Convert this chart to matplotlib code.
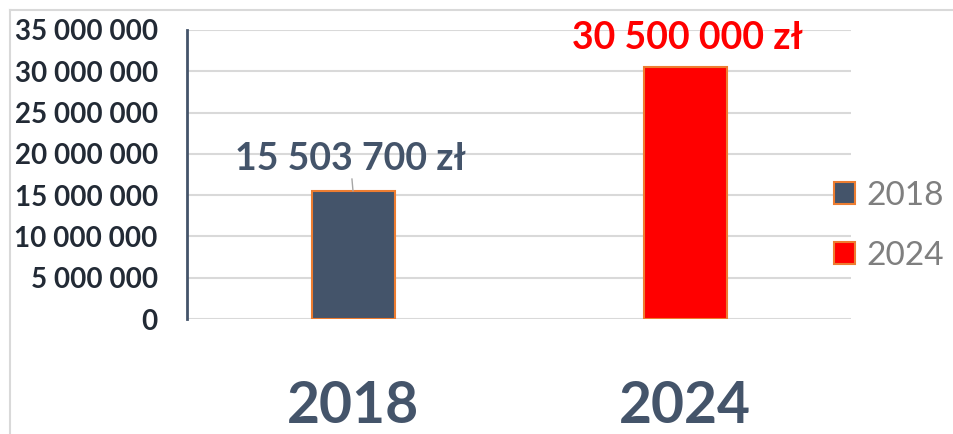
import numpy as np
import matplotlib
matplotlib.use("Agg")
import matplotlib.pyplot as plt
from matplotlib.patches import Patch
from matplotlib.lines import Line2D

years = ["2018", "2024"]
values = [15503700, 30500000]
value_labels = ["15 503 700 zł", "30 500 000 zł"]
bar_colors = ["#44546A", "#FF0000"]
label_colors = ["#44546A", "#FF0000"]
y_ticks = [0, 5000000, 10000000, 15000000, 20000000, 25000000, 30000000, 35000000]

plt.rcParams['font.family'] = ['Lato', 'DejaVu Sans']

W, H = 954, 434
fig = plt.figure(figsize=(W / 100, H / 100), dpi=100)
ax = fig.add_axes([187 / W, 1 - 319 / H, (851 - 187) / W, (319 - 30) / H])

x = np.arange(len(years))
ax.bar(x, values, width=0.25, color=bar_colors, edgecolor="#ED7D31", linewidth=1.5, zorder=3)

ax.set_xlim(-0.5, 1.5)
ax.set_ylim(0, 35000000)
ax.set_yticks(y_ticks)
ax.set_yticklabels([f"{v:,}".replace(",", " ") for v in y_ticks],
                   fontsize=20, fontweight="bold", color="#222A35")
ax.set_xticks(x)
ax.set_xticklabels(years, fontsize=41, fontweight="bold", color="#44546A")
ax.tick_params(axis="y", length=0, pad=21)
ax.tick_params(axis="x", length=0, pad=44)

ax.grid(axis="y", color="#D9D9D9", linewidth=1.5, zorder=0)
for s in ["top", "right", "bottom"]:
    ax.spines[s].set_visible(False)
ax.spines["left"].set_color("#44546A")
ax.spines["left"].set_linewidth(2)
ax.spines["left"].set_zorder(4)

# data labels
ax.annotate(value_labels[0], xy=(x[0], values[0]), xytext=(-2, 23), textcoords="offset points",
            ha="center", va="center", fontsize=27, fontweight="bold", color=label_colors[0],
            arrowprops=dict(arrowstyle="-", color="#A6A6A6", lw=1, shrinkA=13, shrinkB=0))
ax.annotate(value_labels[1], xy=(x[1], values[1]), xytext=(2, 21), textcoords="offset points",
            ha="center", va="center", fontsize=27, fontweight="bold", color=label_colors[1])

handles = [Patch(facecolor=c, edgecolor="#ED7D31", linewidth=1.5) for c in bar_colors]
leg = fig.legend(handles, years, loc="center left", bbox_to_anchor=(834 / W, 1 - 226 / H),
                 frameon=False, fontsize=24, handlelength=0.64, handleheight=0.64,
                 handletextpad=0.33, labelspacing=0.9, borderaxespad=0, borderpad=0)
for t in leg.get_texts():
    t.set_color("#7F7F7F")

# outer chart border
fig.add_artist(Line2D([10 / W, 10 / W], [0, 1 - 10 / H], transform=fig.transFigure, color="#D9D9D9", lw=1.5))
fig.add_artist(Line2D([10 / W, 1], [1 - 10 / H, 1 - 10 / H], transform=fig.transFigure, color="#D9D9D9", lw=1.5))

fig.savefig("out.png", dpi=100)
